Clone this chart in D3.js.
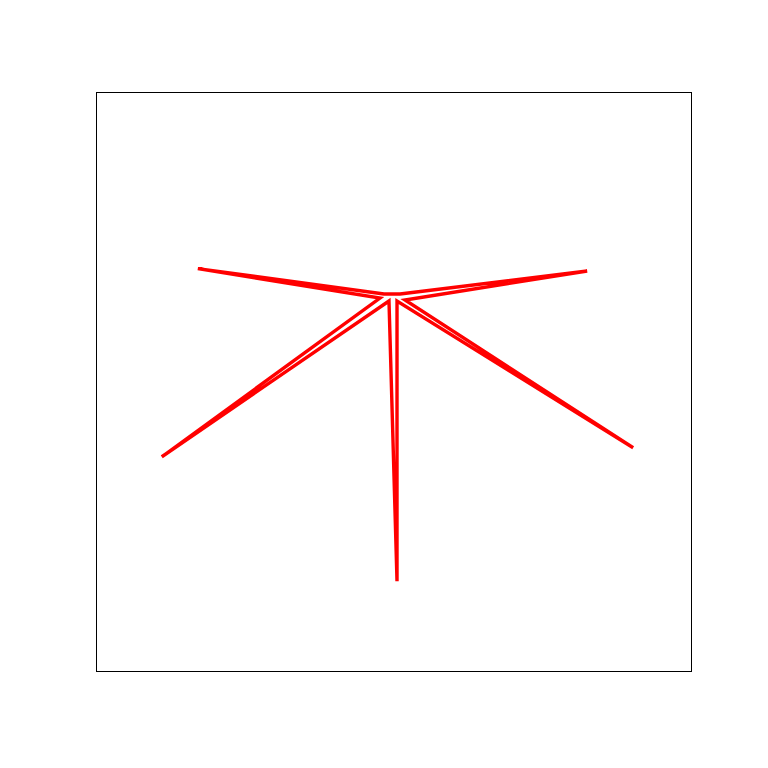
<!DOCTYPE html>
<html>
<head>
<meta charset="utf-8">
<script src="https://cdn.jsdelivr.net/npm/d3@7"></script>
<style>body{margin:0;background:#fff;}</style>
</head>
<body>
<svg id="chart" width="768" height="768"></svg>
<script>
// Outline vertices of the star-like shape (data units)
const xValues = [48.4, 51.1, 82.55, 51.93, 90.28, 50.59, 50.59, 49.24, 11.06, 47.73, 17.11];
const yValues = [65.11, 65.11, 69.08, 64.08, 38.55, 63.9, 15.5, 63.9, 37.0, 64.42, 69.5];
const xDomain = [0, 100];
const yDomain = [0, 100];

(function () {
  const svg = d3.select("#chart");
  const mLeft = 96, mRight = 691, mTop = 92, mBottom = 671;
  const x = d3.scaleLinear().domain(xDomain).range([mLeft, mRight]);
  const y = d3.scaleLinear().domain(yDomain).range([mBottom, mTop]);

  const pts = xValues.map((v, i) => [v, yValues[i]]);
  const line = d3.line().x(d => x(d[0])).y(d => y(d[1])).curve(d3.curveLinearClosed);

  svg.append("path")
    .attr("d", line(pts))
    .attr("fill", "none")
    .attr("stroke", "#ff0000")
    .attr("stroke-width", 3.4)
    .attr("stroke-linejoin", "miter");

  svg.append("rect")
    .attr("x", mLeft + 0.5).attr("y", mTop + 0.5)
    .attr("width", mRight - mLeft).attr("height", mBottom - mTop)
    .attr("fill", "none").attr("stroke", "#000").attr("stroke-width", 1);
})();
</script>
</body>
</html>
